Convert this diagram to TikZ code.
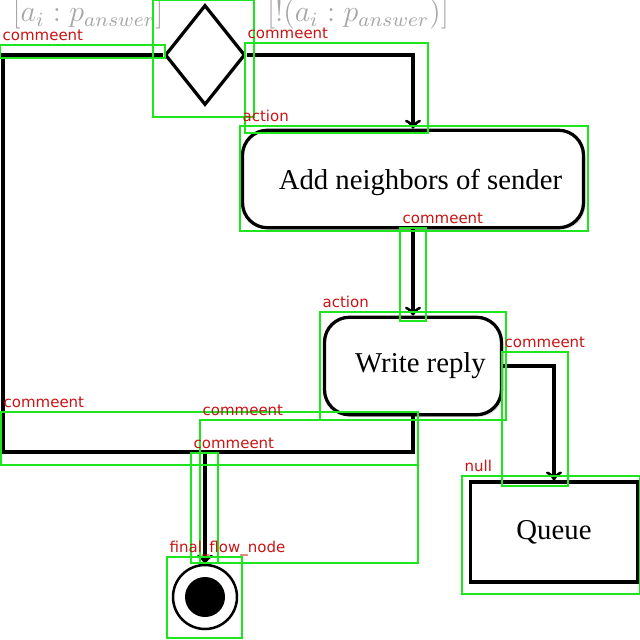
\documentclass[tikz,border=0pt]{standalone}
\usepackage{tikz}
\usepackage{xcolor}
\usepackage{fontspec}
\setmainfont{Liberation Serif}
\newfontfamily\tagfont{DejaVu Sans}
\usetikzlibrary{shapes,arrows,positioning,shadows,calc}
\definecolor{markgreen}{RGB}{30,230,30}
\definecolor{markred}{RGB}{200,20,20}

\begin{document}
\begin{tikzpicture}[x=0.4pt, y=-0.4pt, line width=1.3pt,
	actbox/.style={rectangle, rounded corners=10pt, draw, fill=white, line width=1.3pt, minimum height=39pt,
		drop shadow={shadow xshift=0.8pt, shadow yshift=-0.8pt, opacity=0.3}, font=\fontsize{11.5}{13}\selectfont},
	guard/.style={text=gray!70, font=\fontsize{12}{13}\selectfont, inner sep=1pt},
	hl/.style={draw=markgreen, line width=1pt},
	tag/.style={text=markred, font=\tagfont\fontsize{6}{6}\selectfont, inner sep=0pt, anchor=base west}]
				\useasboundingbox (0,0) rectangle (640,640);
				% decisione
				\node[guard] (gleft) at (88,14) {$[a_i : p_{answer}]$};
				\node[guard] (gright) at (358,14) {$[!(a_i : p_{answer})]$};
				\node[diamond, draw, minimum width=32pt, minimum height=40pt, inner sep=0pt] (dec) at (205,55) {};
				
				% azioni
				\node[actbox, minimum width=136.4pt, text depth=0pt] (add) at (413,179) {\hspace*{6pt}Add neighbors of sender};
				\node[actbox, minimum width=70.8pt] (reply) at (413,366) {\hspace*{6pt}Write reply};
				\node[rectangle, draw, fill=white, minimum width=67pt, minimum height=40pt,
					drop shadow={shadow xshift=0.8pt, shadow yshift=-0.8pt, opacity=0.3},
					font=\fontsize{11.5}{13}\selectfont] (queue) at (554,532) {Queue};
				
				% fine
				\node[circle, draw, line width=1pt, minimum size=25.6pt] (final) at (205,597) {};
				\node[circle, fill, minimum size=16pt] (finaldot) at (final) {};
				\coordinate (lcorner) at (3,452);
				\coordinate (merge) at (205,452);
				
				\draw[->] (dec.east) -| (add.north);
				\draw[->] (add) -- (reply);
				\draw[->] (reply.east) -| (queue.north);
				\draw (dec.west) -| (lcorner) -| (reply.south);
				\draw[->] (merge) -- (final);
				
				% riquadri
				\draw[hl] (153,0) rectangle (254,117);
				\foreach \x/\y/\X/\Y/\lab [count=\i] in {0/45/165/58/commeent, 245/43/428/133/commeent,
						240/126/588/231/action, 400/228/426/321/commeent, 320/312/506/420/action,
						502/352/568/486/commeent, 462/476/640/594/null, 1/412/418/465/commeent,
						200/420/418/563/commeent, 191/453/218/563/commeent, 167/557/242/638/final\_flow\_node}
				{
					\draw[hl] (\x,\y) rectangle (\X,\Y);
					\node[tag] (tag\i) at (\x+1,\y-5) {\lab};
				}
			\end{tikzpicture}
\end{document}
